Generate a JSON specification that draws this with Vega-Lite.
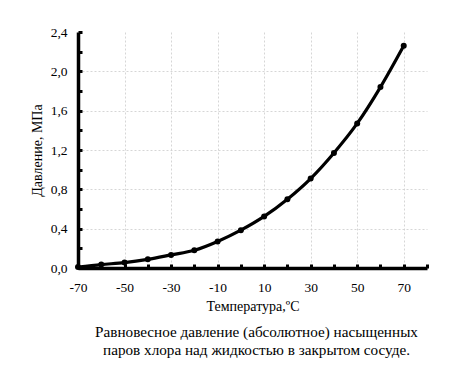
{
  "$schema": "https://vega.github.io/schema/vega-lite/v6.json",
  "autosize": {"type": "none"},
  "width": 349,
  "height": 236,
  "padding": {"left": 78, "top": 32, "right": 47, "bottom": 114},
  "background": "white",
  "config": {"view": {"stroke": null}, "font": "Liberation Serif"},
  "title": {
    "text": ["Равновесное давление (абсолютное) насыщенных", "паров хлора над жидкостью в закрытом сосуде."],
    "orient": "bottom",
    "anchor": "middle",
    "font": "Liberation Serif",
    "fontSize": 15.2,
    "fontWeight": "normal",
    "color": "black",
    "offset": 11,
    "lineHeight": 18,
    "dx": 4
  },
  "data": {"values": [
    {"t": -70, "p": 0.01},
    {"t": -60, "p": 0.035},
    {"t": -50, "p": 0.055},
    {"t": -40, "p": 0.088},
    {"t": -30, "p": 0.133},
    {"t": -20, "p": 0.18},
    {"t": -10, "p": 0.27},
    {"t": 0, "p": 0.385},
    {"t": 10, "p": 0.525},
    {"t": 20, "p": 0.70},
    {"t": 30, "p": 0.91},
    {"t": 40, "p": 1.17},
    {"t": 50, "p": 1.47},
    {"t": 60, "p": 1.84},
    {"t": 70, "p": 2.26}
  ]},
  "encoding": {
    "x": {
      "field": "t", "type": "quantitative",
      "scale": {"domain": [-70, 80], "nice": false, "zero": false},
      "axis": {
        "title": "Температура,ºC",
        "titleFont": "Liberation Serif", "titleFontSize": 14, "titleFontWeight": "normal", "titleColor": "black",
        "titlePadding": 6,
        "values": [-70,-60,-50,-40,-30,-20,-10,0,10,20,30,40,50,60,70,80],
        "labelExpr": "abs(datum.value) % 20 == 10 ? '' + datum.value : ''",
        "labelFont": "Liberation Serif", "labelFontSize": 13.5, "labelColor": "black",
        "labelPadding": 16, "labelFlush": false, "labelOverlap": false,
        "domainColor": "black", "domainWidth": 3.5,
        "tickColor": "black", "tickWidth": 3, "tickSize": -4,
        "grid": true,
        "gridColor": "#cccccc", "gridDash": [2, 2], "gridWidth": 0.8,
        "gridOpacity": {"condition": {"test": "abs(datum.value) % 20 == 10 && datum.value > -70", "value": 1}, "value": 0}
      }
    },
    "y": {
      "field": "p", "type": "quantitative",
      "scale": {"domain": [0, 2.4], "nice": false},
      "axis": {
        "title": "Давление, МПа",
        "titleFont": "Liberation Serif", "titleFontSize": 14, "titleFontWeight": "normal", "titleColor": "black",
        "titlePadding": 6,
        "values": [0,0.2,0.4,0.6,0.8,1.0,1.2,1.4,1.6,1.8,2.0,2.2,2.4],
        "labelExpr": "round(datum.value*10) % 4 == 0 ? replace(format(datum.value, '.1f'), '.', ',') : ''",
        "labelFont": "Liberation Serif", "labelFontSize": 13.5, "labelColor": "black",
        "labelPadding": 15, "labelFlush": false, "labelOverlap": false,
        "domainColor": "black", "domainWidth": 3.5,
        "tickColor": "black", "tickWidth": 3, "tickSize": -4,
        "grid": true,
        "gridColor": "#cccccc", "gridDash": [2, 2], "gridWidth": 0.8,
        "gridOpacity": {"condition": {"test": "round(datum.value*10) % 4 == 0 && datum.value > 0 && datum.value < 2.3", "value": 1}, "value": 0}
      }
    }
  },
  "layer": [
    {"mark": {"type": "line", "interpolate": "monotone", "color": "black", "strokeWidth": 3.2}},
    {"mark": {"type": "point", "filled": true, "color": "black", "size": 36, "opacity": 1}}
  ]
}
